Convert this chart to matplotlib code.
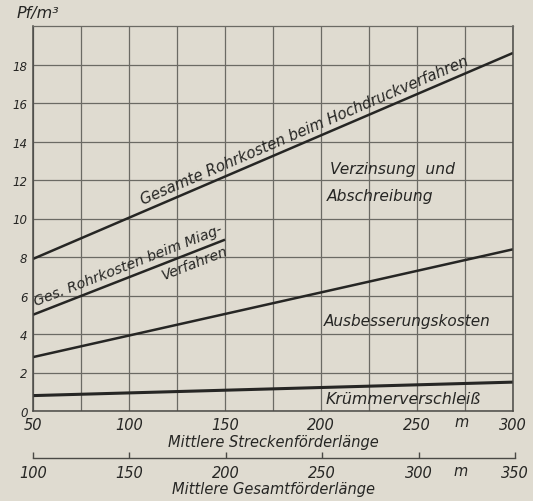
import numpy as np
import matplotlib
matplotlib.use("Agg")
import matplotlib.pyplot as plt
from matplotlib.transforms import blended_transform_factory

# Werte (Pf/m3 ueber mittlerer Streckenfoerderlaenge)
strecke = [50, 300]
hochdruck = [7.9, 18.6]
miag_strecke = [50, 150]
miag = [5.0, 8.9]
ausbesserung = [2.8, 8.4]
kruemmer = [0.8, 1.5]

x_ticks = [50, 100, 150, 200, 250, 300]
y_ticks = [0, 2, 4, 6, 8, 10, 12, 14, 16, 18]
gesamt_ticks = [100, 150, 200, 250, 300, 350]

bg = "#dfdbd0"
ink = "#262624"
grid_c = "#6b6a64"
font = dict(family="DejaVu Sans", style="italic", color=ink)

W, H = 533, 502
fig = plt.figure(figsize=(W / 100, H / 100), dpi=100, facecolor=bg)
ax = fig.add_axes([33 / W, 1 - 412 / H, 480 / W, 385 / H], facecolor=bg)

ax.set_xlim(50, 300)
ax.set_ylim(0, 20)
ax.set_xticks(x_ticks)
ax.set_xticks(np.arange(75, 300, 50), minor=True)
ax.set_yticks(y_ticks)
ax.set_xticklabels([str(t) for t in x_ticks], fontsize=10.5, **font)
ax.set_yticklabels([str(t) for t in y_ticks], fontsize=8.5, **font)
ax.tick_params(which="both", length=0)
ax.tick_params(axis="x", pad=4)
ax.tick_params(axis="y", pad=4)
ax.grid(True, which="both", color=grid_c, lw=0.9)
for s in ax.spines.values():
    s.set_color("#4a4945")
    s.set_linewidth(1.1)
ax.spines["top"].set_color(grid_c)
ax.spines["top"].set_linewidth(0.9)

lw = 1.8
ax.plot(strecke, hochdruck, color=ink, lw=lw, solid_capstyle="butt")
ax.plot(miag_strecke, miag, color=ink, lw=lw, solid_capstyle="butt")
ax.plot(strecke, ausbesserung, color=ink, lw=lw, solid_capstyle="butt")
ax.plot(strecke, kruemmer, color=ink, lw=lw + 0.4, solid_capstyle="butt")


def line_text(xs, ys, x, txt, off, va, size):
    slope = (ys[1] - ys[0]) / (xs[1] - xs[0])
    y = ys[0] + slope * (x - xs[0]) + off
    ang = np.degrees(np.arctan(slope))
    ax.text(x, y, txt, rotation=ang, transform_rotates_text=True,
            rotation_mode="anchor", ha="center", va=va, fontsize=size, **font)


line_text(strecke, hochdruck, 193, "Gesamte Rohrkosten beim Hochdruckverfahren", 0.25, "bottom", 10.7)
line_text(miag_strecke, miag, 101, "Ges. Rohrkosten beim Miag-", 0.25, "bottom", 10.3)
line_text(miag_strecke, miag, 133, "Verfahren", -0.2, "top", 10.3)

ax.text(237, 12.6, "Verzinsung  und", ha="center", va="center", fontsize=11.2, **font)
ax.text(231, 11.2, "Abschreibung", ha="center", va="center", fontsize=11.2, **font)
ax.text(245, 4.7, "Ausbesserungskosten", ha="center", va="center", fontsize=11, **font)
ax.text(243, 0.65, "Krümmerverschleiß", ha="center", va="center", fontsize=11.4, **font)

# Einheiten
ax.text(0.01, 1.015, "Pf/m³", transform=ax.transAxes, ha="center", va="bottom",
        fontsize=11.5, **font)
tr = blended_transform_factory(ax.transData, ax.transAxes)
ax.text(273, -0.027, "m", transform=tr, ha="center", va="center", fontsize=10.5, **font)
fig.text(273 / W, 1 - 443 / H, "Mittlere Streckenförderlänge", ha="center", va="center",
         fontsize=10.5, **font)

# zweite Achse: mittlere Gesamtfoerderlaenge
ax2 = fig.add_axes([33 / W, 1 - 459 / H, 482 / W, 0.001], facecolor="none")
ax2.set_xlim(100, 350)
ax2.set_yticks([])
for k in ["top", "left", "right"]:
    ax2.spines[k].set_visible(False)
ax2.spines["bottom"].set_color("#4a4945")
ax2.spines["bottom"].set_linewidth(1.0)
ax2.set_xticks(gesamt_ticks)
ax2.set_xticklabels([str(t) for t in gesamt_ticks], fontsize=10.5, **font)
ax2.tick_params(axis="x", direction="in", length=4, width=1, color="#4a4945", pad=5)
fig.text(461 / W, 1 - 472 / H, "m", ha="center", va="center", fontsize=10.5, **font)
fig.text(273 / W, 1 - 490 / H, "Mittlere Gesamtförderlänge", ha="center", va="center",
         fontsize=10.5, **font)

fig.savefig("out.png", dpi=100, facecolor=bg)
